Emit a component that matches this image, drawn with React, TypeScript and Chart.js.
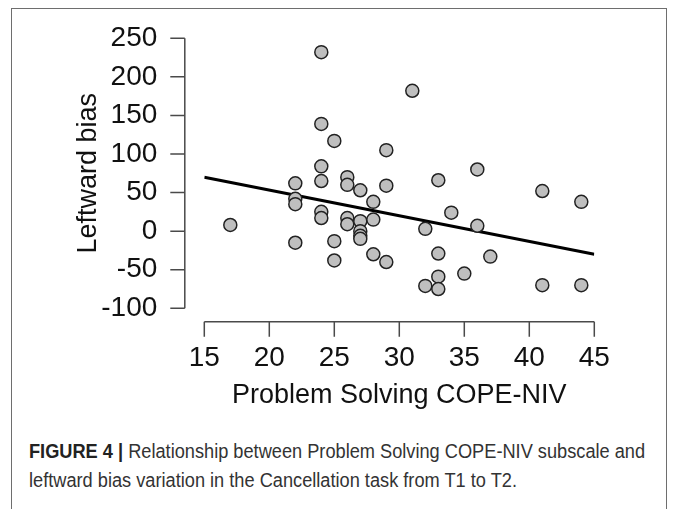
import React, { useEffect, useRef } from "react";
import { Chart, registerables } from "chart.js";

Chart.register(...registerables);

// Problem Solving COPE-NIV scores (x) and leftward bias variation (y)
const copeScores = [
  17,
  22, 22, 22, 22,
  24, 24, 24, 24, 24, 24,
  25, 25, 25,
  26, 26, 26, 26,
  27, 27, 27, 27, 27,
  28, 28, 28,
  29, 29, 29,
  31,
  32, 32,
  33, 33, 33, 33,
  34,
  35,
  36, 36,
  37,
  41, 41,
  44, 44,
];
const leftwardBias = [
  8,
  62, 42, 35, -15,
  232, 139, 84, 65, 25, 17,
  117, -13, -38,
  70, 60, 17, 9,
  53, 13, 0, -6, -10,
  38, 15, -30,
  105, 59, -40,
  182,
  3, -71,
  66, -29, -59, -75,
  24,
  -55,
  80, 7,
  -33,
  52, -70,
  38, -70,
];
// Regression line end points
const fitX = [15, 45];
const fitY = [70, -30];

const xTicks = [15, 20, 25, 30, 35, 40, 45];
const yTicks = [-100, -50, 0, 50, 100, 150, 200, 250];

const xTitle = "Problem Solving COPE-NIV";
const yTitle = "Leftward bias";
const captionBold = "FIGURE 4 |";
const captionLine1 = " Relationship between Problem Solving COPE-NIV subscale and";
const captionLine2 = "leftward bias variation in the Cancellation task from T1 to T2.";

const CANVAS_W = 674;
const CANVAS_H = 420;
const TICK_FONT = 28;
const TITLE_FONT = 27;

const rAxesPlugin = {
  id: "rAxes",
  afterDraw(chart: any) {
    const { ctx } = chart;
    const xs = chart.scales.x;
    const ys = chart.scales.y;
    ctx.save();
    ctx.strokeStyle = "#4a4a4a";
    ctx.lineWidth = 1.5;
    // y axis (R style, offset from plot region)
    const yAxisX = xs.getPixelForValue(15) - 19.5;
    const yTop = ys.getPixelForValue(yTicks[yTicks.length - 1]);
    const yBot = ys.getPixelForValue(yTicks[0]);
    ctx.beginPath();
    ctx.moveTo(yAxisX, yTop);
    ctx.lineTo(yAxisX, yBot);
    yTicks.forEach((v) => {
      const py = ys.getPixelForValue(v);
      ctx.moveTo(yAxisX, py);
      ctx.lineTo(yAxisX - 14.5, py);
    });
    ctx.stroke();
    // x axis
    const xAxisY = ys.getPixelForValue(-100) + 13.5;
    const xL = xs.getPixelForValue(xTicks[0]);
    const xR = xs.getPixelForValue(xTicks[xTicks.length - 1]);
    ctx.beginPath();
    ctx.moveTo(xL, xAxisY);
    ctx.lineTo(xR, xAxisY);
    xTicks.forEach((v) => {
      const px = xs.getPixelForValue(v);
      ctx.moveTo(px, xAxisY);
      ctx.lineTo(px, xAxisY + 15);
    });
    ctx.stroke();
    ctx.restore();
  },
};

function ScatterChart() {
  const ref = useRef<HTMLCanvasElement | null>(null);
  useEffect(() => {
    if (!ref.current) return;
    const points = copeScores.map((x, i) => ({ x, y: leftwardBias[i] }));
    const line = fitX.map((x, i) => ({ x, y: fitY[i] }));
    const chart = new Chart(ref.current, {
      type: "scatter",
      data: {
        datasets: [
          {
            type: "scatter",
            data: points,
            backgroundColor: "#bfbfbf",
            borderColor: "#222222",
            borderWidth: 1.5,
            pointRadius: 6.5,
            order: 0,
          } as any,
          {
            type: "line",
            data: line,
            borderColor: "#000000",
            borderWidth: 3,
            pointRadius: 0,
            fill: false,
            order: 1,
          } as any,
        ],
      },
      options: {
        responsive: false,
        animation: false,
        devicePixelRatio: 1,
        layout: { padding: { top: 38.3, right: 79.7, bottom: 0, left: 0 } },
        plugins: {
          legend: { display: false },
          tooltip: { enabled: false },
          title: { display: false },
        },
        scales: {
          x: {
            type: "linear",
            min: 15,
            max: 45,
            afterBuildTicks(scale: any) {
              scale.ticks = xTicks.map((v) => ({ value: v }));
            },
            afterFit(scale: any) {
              scale.height = CANVAS_H - 308.3;
              scale.paddingLeft = 0;
              scale.paddingRight = 0;
            },
            grid: { display: false, drawTicks: false },
            border: { display: false },
            ticks: {
              padding: 33,
              autoSkip: false,
              color: "#111",
              font: { family: "Liberation Sans", size: TICK_FONT },
              maxRotation: 0,
            },
            title: {
              display: true,
              text: xTitle,
              color: "#111",
              font: { family: "Liberation Sans", size: TITLE_FONT },
              padding: { top: 0, bottom: 24 - (TITLE_FONT * 1.2) / 2 },
            },
          },
          y: {
            type: "linear",
            min: -100,
            max: 250,
            afterBuildTicks(scale: any) {
              scale.ticks = yTicks.map((v) => ({ value: v }));
            },
            afterFit(scale: any) {
              scale.width = 204.3;
              scale.paddingTop = 0;
              scale.paddingBottom = 0;
            },
            grid: { display: false, drawTicks: false },
            border: { display: false },
            ticks: {
              padding: 47,
              autoSkip: false,
              color: "#111",
              font: { family: "Liberation Sans", size: TICK_FONT },
            },
            title: {
              display: true,
              text: yTitle,
              color: "#111",
              font: { family: "Liberation Sans", size: TITLE_FONT },
              padding: { top: 89 - (TITLE_FONT * 1.2) / 2, bottom: 0 },
            },
          },
        },
      } as any,
      plugins: [rAxesPlugin],
    });
    return () => chart.destroy();
  }, []);
  return (
    <canvas
      ref={ref}
      width={CANVAS_W}
      height={CANVAS_H}
      style={{ position: "absolute", left: 0, top: 0, width: CANVAS_W, height: CANVAS_H }}
    />
  );
}

const captionLineStyle: React.CSSProperties = {
  whiteSpace: "nowrap",
  transform: "scaleX(0.91)",
  transformOrigin: "left center",
  height: 29,
};

export default function App() {
  return (
    <div
      style={{
        position: "absolute",
        left: 0,
        top: 0,
        width: 674,
        height: 509,
        overflow: "hidden",
        background: "#ffffff",
      }}
    >
      <div
        style={{
          position: "absolute",
          left: 11,
          top: 8,
          width: 656,
          height: 540,
          border: "1.5px solid #6e6e6e",
          boxSizing: "border-box",
        }}
      />
      <ScatterChart />
      <div
        style={{
          position: "absolute",
          left: 29,
          top: 437,
          width: 700,
          fontFamily: "'Liberation Sans', Arial, sans-serif",
          fontSize: 20,
          lineHeight: "29px",
          color: "#333",
        }}
      >
        <div style={captionLineStyle}>
          <b style={{ color: "#222" }}>{captionBold}</b>
          {captionLine1}
        </div>
        <div style={captionLineStyle}>{captionLine2}</div>
      </div>
    </div>
  );
}
